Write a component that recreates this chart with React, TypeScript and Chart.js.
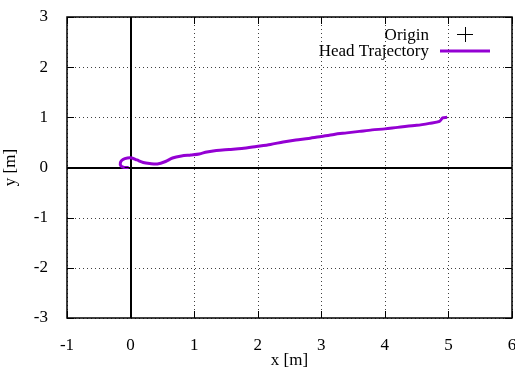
import React, { useEffect, useRef } from "react";
import { Chart, registerables } from "chart.js";

Chart.register(...registerables);

const trajX = [-0.03, -0.1, -0.15, -0.16, -0.12, -0.05, 0.02, 0.1, 0.2, 0.3, 0.42, 0.55, 0.66, 0.8, 0.95, 1.08, 1.2, 1.35, 1.55, 1.75, 1.98, 2.2, 2.4, 2.6, 2.8, 3.0, 3.2, 3.4, 3.6, 3.8, 4.0, 4.2, 4.5, 4.7, 4.86, 4.91, 4.98];
const trajY = [0.0, 0.0, 0.03, 0.1, 0.16, 0.19, 0.19, 0.15, 0.1, 0.08, 0.07, 0.12, 0.19, 0.23, 0.25, 0.27, 0.31, 0.34, 0.36, 0.38, 0.42, 0.46, 0.51, 0.55, 0.58, 0.62, 0.66, 0.69, 0.72, 0.75, 0.77, 0.8, 0.84, 0.88, 0.92, 0.99, 1.0];
const originX = [0];
const originY = [0];
const xTicks = [-1, 0, 1, 2, 3, 4, 5, 6];
const yTicks = [-3, -2, -1, 0, 1, 2, 3];
const legendLabels = ["Origin", "Head Trajectory"];

const PURPLE = "#9400d3";
const FONT = "'Liberation Serif', 'DejaVu Serif', serif";
const FS = 17;

const framePlugin = {
  id: "gnuframe",
  beforeDatasetsDraw(chart: any) {
    const { ctx, chartArea: a, scales } = chart;
    const xs = scales.x, ys = scales.y;
    ctx.save();
    ctx.strokeStyle = "rgba(0,0,0,0.75)";
    ctx.lineWidth = 1;
    ctx.setLineDash([1, 3]);
    xTicks.forEach((v) => {
      if (v === 0) return;
      const px = Math.round(xs.getPixelForValue(v)) + 0.5;
      ctx.beginPath();
      ctx.moveTo(px, a.top);
      ctx.lineTo(px, a.bottom);
      ctx.stroke();
    });
    yTicks.forEach((v) => {
      if (v === 0) return;
      const py = Math.round(ys.getPixelForValue(v)) + 0.5;
      ctx.beginPath();
      ctx.moveTo(a.left, py);
      ctx.lineTo(a.right, py);
      ctx.stroke();
    });
    ctx.setLineDash([]);
    ctx.strokeStyle = "#000";
    ctx.lineWidth = 2;
    const x0 = Math.round(xs.getPixelForValue(0));
    const y0 = Math.round(ys.getPixelForValue(0));
    ctx.beginPath();
    ctx.moveTo(x0, a.top);
    ctx.lineTo(x0, a.bottom);
    ctx.moveTo(a.left, y0);
    ctx.lineTo(a.right, y0);
    ctx.stroke();
    ctx.lineWidth = 1;
    xTicks.forEach((v) => {
      const px = Math.round(xs.getPixelForValue(v)) + 0.5;
      ctx.beginPath();
      ctx.moveTo(px, a.bottom);
      ctx.lineTo(px, a.bottom - 7);
      ctx.moveTo(px, a.top);
      ctx.lineTo(px, a.top + 7);
      ctx.stroke();
    });
    yTicks.forEach((v) => {
      const py = Math.round(ys.getPixelForValue(v)) + 0.5;
      ctx.beginPath();
      ctx.moveTo(a.left, py);
      ctx.lineTo(a.left + 7, py);
      ctx.moveTo(a.right, py);
      ctx.lineTo(a.right - 7, py);
      ctx.stroke();
    });
    ctx.restore();
  },
  afterDatasetsDraw(chart: any) {
    const { ctx, chartArea: a } = chart;
    ctx.save();
    ctx.strokeStyle = "#000";
    ctx.lineWidth = 1.5;
    ctx.strokeRect(a.left, a.top, a.right - a.left, a.bottom - a.top);
    ctx.font = `${FS}px ${FONT}`;
    ctx.fillStyle = "#000";
    ctx.textAlign = "right";
    ctx.textBaseline = "alphabetic";
    ctx.fillText(legendLabels[0], 429, 40);
    ctx.fillText(legendLabels[1], 429, 56);
    ctx.strokeStyle = "#000";
    ctx.lineWidth = 1;
    ctx.beginPath();
    ctx.moveTo(457, 34.5);
    ctx.lineTo(473, 34.5);
    ctx.moveTo(465.5, 27);
    ctx.lineTo(465.5, 42);
    ctx.stroke();
    ctx.strokeStyle = PURPLE;
    ctx.lineWidth = 3;
    ctx.beginPath();
    ctx.moveTo(440, 51);
    ctx.lineTo(490, 51);
    ctx.stroke();
    ctx.restore();
  },
};

export default function App() {
  const ref = useRef<HTMLCanvasElement | null>(null);
  useEffect(() => {
    if (!ref.current) return;
    const chart = new Chart(ref.current, {
      type: "scatter",
      data: {
        datasets: [
          {
            label: legendLabels[0],
            data: originX.map((x, i) => ({ x, y: originY[i] })),
            pointStyle: "cross",
            radius: 6,
            borderColor: "#000",
            borderWidth: 1,
            showLine: false,
          },
          {
            label: legendLabels[1],
            data: trajX.map((x, i) => ({ x, y: trajY[i] })),
            showLine: true,
            borderColor: PURPLE,
            borderWidth: 3,
            pointRadius: 0,
            tension: 0.3,
            fill: false,
          },
        ],
      },
      options: {
        animation: false,
        responsive: false,
        devicePixelRatio: 1,
        layout: { autoPadding: false, padding: { top: 17, right: 3, left: 0, bottom: 0 } },
        plugins: { legend: { display: false }, tooltip: { enabled: false } },
        scales: {
          x: {
            type: "linear",
            min: -1,
            max: 6,
            grid: { display: false },
            border: { display: false },
            afterBuildTicks: (s: any) => {
              s.ticks = xTicks.map((v) => ({ value: v }));
            },
            afterFit: (s: any) => {
              s.height = 54;
              s.paddingLeft = 0;
              s.paddingRight = 0;
            },
            ticks: {
              padding: 9,
              color: "#000",
              font: { family: FONT, size: FS },
              maxRotation: 0,
              autoSkip: false,
            },
            title: {
              display: true,
              text: "x [m]",
              color: "#000",
              font: { family: FONT, size: FS },
              padding: { top: 0, bottom: 1 },
            },
          },
          y: {
            type: "linear",
            min: -3,
            max: 3,
            grid: { display: false },
            border: { display: false },
            afterBuildTicks: (s: any) => {
              s.ticks = yTicks.map((v) => ({ value: v }));
            },
            afterFit: (s: any) => {
              s.width = 67;
              s.paddingTop = 0;
              s.paddingBottom = 0;
            },
            ticks: {
              padding: 11,
              color: "#000",
              font: { family: FONT, size: FS },
              autoSkip: false,
            },
            title: {
              display: true,
              text: "y [m]",
              color: "#000",
              font: { family: FONT, size: FS },
              padding: { top: 0, bottom: 10 },
            },
          },
        },
      },
      plugins: [framePlugin],
    });
    return () => chart.destroy();
  }, []);
  return (
    <div style={{ position: "fixed", left: 0, top: 0, width: 515, height: 372, background: "#fff" }}>
      <canvas ref={ref} width={515} height={372} style={{ width: 515, height: 372, display: "block" }} />
    </div>
  );
}
